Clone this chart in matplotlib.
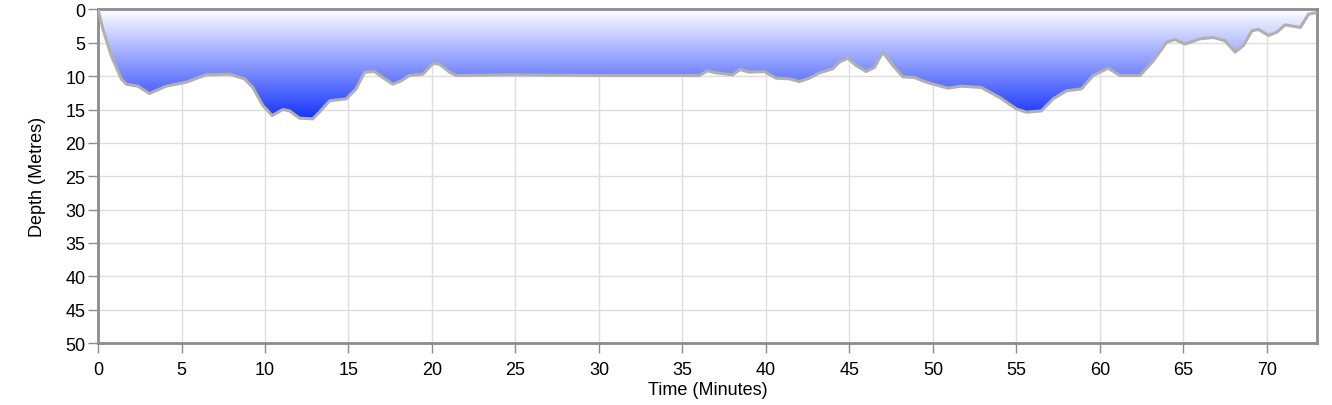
import numpy as np
import matplotlib.pyplot as plt

plt.rcParams['font.family'] = ['Liberation Sans', 'DejaVu Sans']

# dive profile
time_min = [0.0, 0.3, 0.8, 1.39, 1.69, 2.39, 3.08, 4.08, 5.28, 6.48, 7.87, 8.77, 9.27,
            9.87, 10.43, 11.07, 11.47, 12.07, 12.86, 13.26, 13.86, 14.86, 15.46, 15.96,
            16.56, 17.05, 17.65, 18.16, 18.65, 19.45, 20.05, 20.45, 21.05, 21.45, 24.6,
            30.0, 36.0, 36.5, 37.0, 38.0, 38.45, 39.0, 39.9, 40.6, 41.4, 42.0, 42.6,
            43.2, 44.0, 44.4, 44.9, 45.4, 46.0, 46.5, 47.0, 47.6, 48.2, 48.9, 49.6,
            50.9, 51.7, 52.9, 54.0, 55.0, 55.6, 56.5, 57.2, 58.0, 58.9, 59.6, 60.5,
            61.2, 62.4, 63.2, 64.0, 64.5, 65.1, 66.0, 66.8, 67.5, 68.1, 68.6, 69.1,
            69.5, 70.1, 70.6, 71.1, 72.0, 72.5, 72.9, 73.0]
depth_m = [0.0, 3.0, 7.0, 10.4, 11.2, 11.5, 12.6, 11.5, 10.9, 9.8, 9.7, 10.4, 11.7,
           14.4, 15.9, 15.0, 15.2, 16.3, 16.4, 15.4, 13.7, 13.4, 11.9, 9.4,
           9.3, 10.2, 11.2, 10.7, 9.9, 9.7, 8.1, 8.2, 9.4, 9.9, 9.8,
           9.9, 9.9, 9.2, 9.5, 9.8, 9.0, 9.4, 9.3, 10.3, 10.4, 10.8, 10.3,
           9.5, 8.9, 7.9, 7.3, 8.4, 9.3, 8.7, 6.4, 8.4, 10.1, 10.2, 10.9,
           11.8, 11.5, 11.7, 13.2, 14.9, 15.4, 15.2, 13.4, 12.2, 11.9, 9.9, 8.8,
           9.9, 9.9, 7.7, 4.9, 4.5, 5.2, 4.4, 4.2, 4.7, 6.4, 5.4, 3.2,
           3.0, 3.9, 3.4, 2.3, 2.7, 0.7, 0.5, 0.5]

x_ticks = list(range(0, 75, 5))
y_ticks = list(range(0, 55, 5))

fig = plt.figure(figsize=(13.32, 4.06), dpi=100)
ax = fig.add_axes([0.0736, 0.1527, 0.9151, 0.8215])

t = np.array(time_min)
d = np.array(depth_m)
dmax = d.max()

# gradient fill under the profile: white at surface -> blue at max depth
poly = ax.fill_between(t, 0, d, color='none', lw=0)
grad = np.linspace(0, 1, 256)[:, None]
top = np.array([1.0, 1.0, 1.0])
bot = np.array([0.08, 0.2, 1.0])
img = top + (bot - top) * grad[..., None]
im = ax.imshow(img, extent=(0, t.max(), dmax, 0), origin='upper',
               aspect='auto', zorder=2, interpolation='bilinear')
im.set_clip_path(poly.get_paths()[0], transform=ax.transData)

ax.plot(t, d, color='#b0b0b0', lw=2.2, zorder=3,
        solid_joinstyle='round', solid_capstyle='round')

ax.set_xlim(0, 73)
ax.set_ylim(50, 0)
ax.set_xticks(x_ticks)
ax.set_yticks(y_ticks)
ax.grid(True, color='#dddddd', lw=1)
ax.set_axisbelow(True)
for s in ax.spines.values():
    s.set_color('#8c8c8c')
    s.set_linewidth(2)
ax.tick_params(colors='#8c8c8c', labelcolor='black', labelsize=13,
               length=7, width=1, pad=2)
ax.tick_params(axis='x', pad=6)
ax.set_xlabel('Time (Minutes)', fontsize=13, labelpad=2)
ax.set_ylabel('Depth (Metres)', fontsize=13, labelpad=14)

fig.savefig('out.png', dpi=100)
